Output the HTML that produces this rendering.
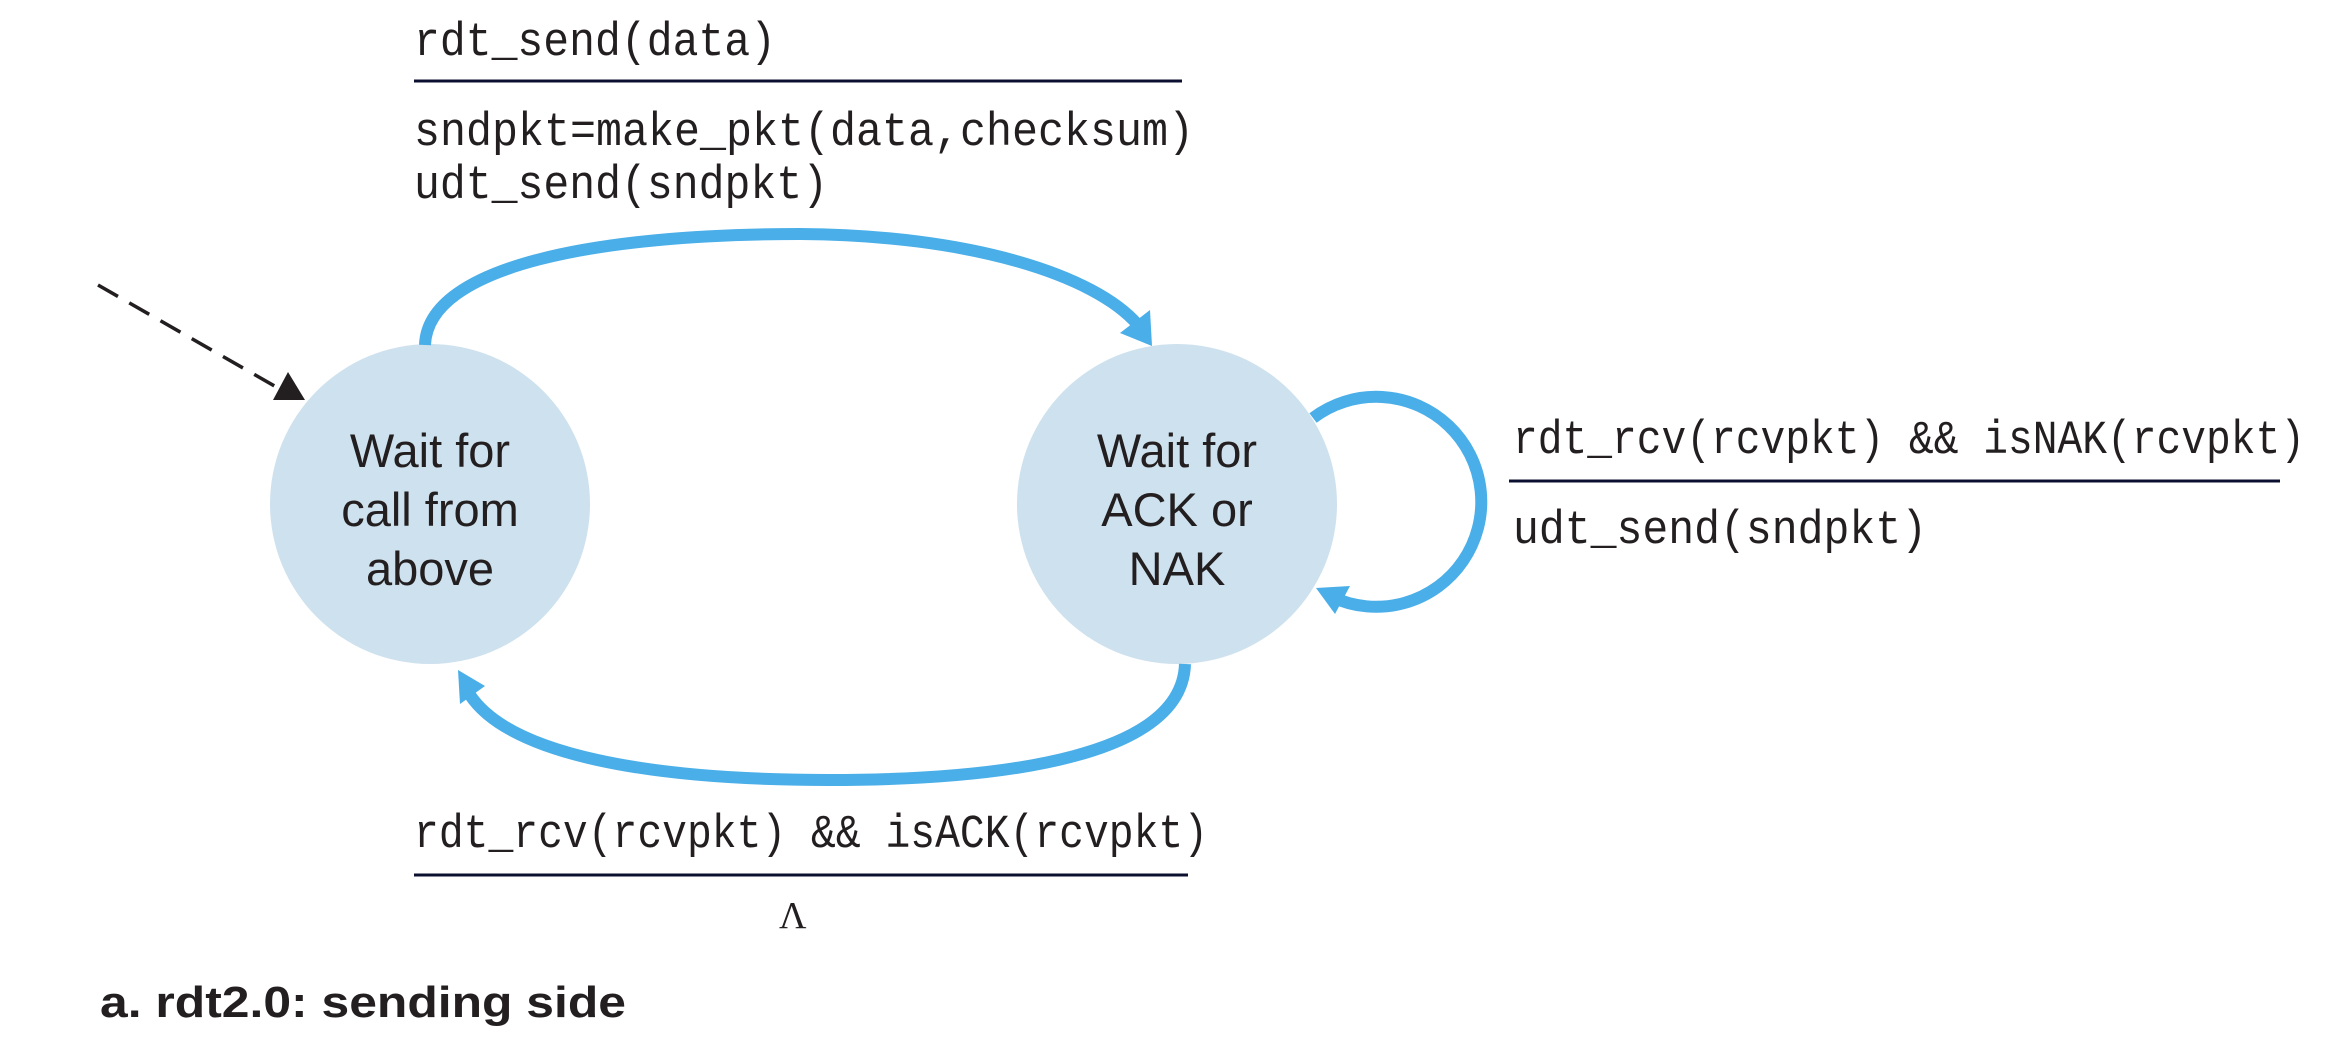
<!DOCTYPE html>
<html><head><meta charset="utf-8"><style>
html,body{margin:0;padding:0;background:#fff;}
svg{display:block;}
.m{font-family:"Liberation Mono",monospace;font-size:47px;fill:#231f20;}
.s{font-family:"Liberation Sans",sans-serif;font-size:47px;fill:#231f20;}
</style></head><body>
<svg width="2338" height="1048" viewBox="0 0 2338 1048" xmlns="http://www.w3.org/2000/svg">
<circle cx="430" cy="504" r="160" fill="#cee1ee"/>
<circle cx="1177" cy="504" r="160" fill="#cee1ee"/>
<text class="s" x="430" y="467" text-anchor="middle">Wait for</text>
<text class="s" x="430" y="526" text-anchor="middle">call from</text>
<text class="s" x="430" y="585" text-anchor="middle">above</text>
<text class="s" x="1177" y="467" text-anchor="middle">Wait for</text>
<text class="s" x="1177" y="526" text-anchor="middle">ACK or</text>
<text class="s" x="1177" y="585" text-anchor="middle">NAK</text>
<!-- dashed -->
<line x1="98" y1="285" x2="278" y2="388" stroke="#231f20" stroke-width="3.5" stroke-dasharray="23,13"/>
<polygon points="273,400 305,400 288,372" fill="#231f20"/>
<!-- top arc -->
<path d="M425,345 C428,265 600,234 800,234 C970,235 1095,275 1138,325" fill="none" stroke="#4aaee8" stroke-width="12"/>
<polygon points="1120,333 1152,346 1150,310" fill="#4aaee8"/>
<!-- bottom arc -->
<path d="M1185,664 C1182,755 1010,780 829,780 C650,780 510,755 470,695" fill="none" stroke="#4aaee8" stroke-width="12"/>
<polygon points="458,670 460,704 485,686" fill="#4aaee8"/>
<!-- self loop -->
<path d="M1313,418 A105,105 0 1 1 1332,597" fill="none" stroke="#4aaee8" stroke-width="12"/>
<polygon points="1316,588 1350,586 1335,614" fill="#4aaee8"/>
<!-- labels -->
<text class="m" x="414" y="55" textLength="362" lengthAdjust="spacingAndGlyphs">rdt_send(data)</text>
<line x1="414" y1="81" x2="1182" y2="81" stroke="#0c1030" stroke-width="3"/>
<text class="m" x="414" y="145" textLength="780" lengthAdjust="spacingAndGlyphs">sndpkt=make_pkt(data,checksum)</text>
<text class="m" x="414" y="198" textLength="414" lengthAdjust="spacingAndGlyphs">udt_send(sndpkt)</text>
<text class="m" x="1513" y="453" textLength="792" lengthAdjust="spacingAndGlyphs">rdt_rcv(rcvpkt) &amp;&amp; isNAK(rcvpkt)</text>
<line x1="1509" y1="481" x2="2280" y2="481" stroke="#0c1030" stroke-width="3"/>
<text class="m" x="1513" y="543" textLength="414" lengthAdjust="spacingAndGlyphs">udt_send(sndpkt)</text>
<text class="m" x="414" y="847" textLength="794" lengthAdjust="spacingAndGlyphs">rdt_rcv(rcvpkt) &amp;&amp; isACK(rcvpkt)</text>
<line x1="414" y1="875" x2="1188" y2="875" stroke="#0c1030" stroke-width="3"/>
<text x="779" y="928" style="font-family:'Liberation Serif',serif;font-size:38px;fill:#231f20">Λ</text>
<text x="100" y="1017" textLength="526" lengthAdjust="spacingAndGlyphs" style="font-family:'Liberation Sans',sans-serif;font-weight:bold;font-size:44px;fill:#231f20">a.  rdt2.0: sending side</text>
</svg>
</body></html>
